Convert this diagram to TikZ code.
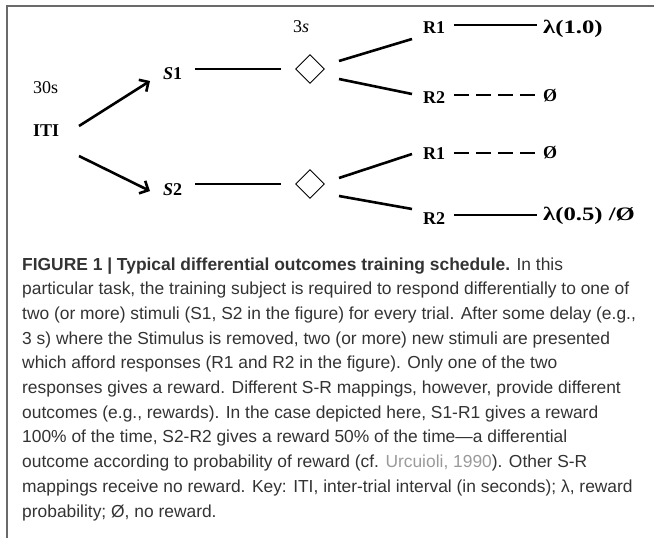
\documentclass[tikz,border=0pt]{standalone}
\usepackage{fontspec}
\setmainfont{Liberation Serif}
\setsansfont{Liberation Sans}
\newfontfamily\widelbl{Liberation Serif}[FakeStretch=1.3]
\usetikzlibrary{arrows.meta,shapes.geometric}
\definecolor{framegray}{HTML}{6A6A6A}
\definecolor{captxt}{HTML}{333333}
\definecolor{linkgray}{HTML}{9A9A9A}
\begin{document}
\begin{tikzpicture}[x=1pt,y=-1pt,
  lbl/.style={font=\fontsize{18}{20}\selectfont\bfseries, inner sep=0pt, anchor=base west},
  wlbl/.style={font=\widelbl\fontsize{19}{21}\selectfont\bfseries, inner sep=0pt, anchor=base west},
  plain/.style={font=\fontsize{18}{20}\selectfont, inner sep=0pt, anchor=base west},
  conn/.style={line width=2.6pt},
  dconn/.style={line width=2.6pt, dash pattern=on 15pt off 7pt},
  arr/.style={line width=2.6pt, -{Straight Barb[length=7pt,width=14pt]}},
  dia/.style={draw, diamond, minimum width=29pt, minimum height=29pt, inner sep=0pt, line width=0.9pt},
  capline/.style={font=\sffamily\fontsize{17.4}{20}\selectfont, text=captxt, inner sep=0pt, anchor=base west}]
\useasboundingbox (0,0) rectangle (654,538);
% frame
\coordinate (ftr) at (654,6);
\coordinate (ftl) at (7,6);
\coordinate (fbl) at (7,538);
\draw[framegray, line width=1.4pt] (ftr) -- (ftl) -- (fbl);

% labels
\node[plain] (t30) at (33,93) {30s};
\node[lbl] (iti) at (33,136) {ITI};
\node[lbl] (s1) at (163,79) {\textit{S}1};
\node[lbl] (s2) at (163,195) {\textit{S}2};
\node[plain] (t3) at (293,32) {3\textit{s}};
\node[dia] (d1) at (310,69) {};
\node[dia] (d2) at (310,184) {};
\node[lbl] (r1a) at (423,33) {R1};
\node[lbl] (r2a) at (423,103) {R2};
\node[lbl] (r1b) at (423,159) {R1};
\node[lbl] (r2b) at (423,224) {R2};
\node[wlbl] (o1) at (543,33) {λ(1.0)};
\node[lbl] (o2) at (543,101) {Ø};
\node[lbl] (o3) at (543,158) {Ø};
\node[wlbl] (o4) at (543,220) {λ(0.5) /Ø};

% connector ends
\coordinate (a1s) at (79,126); \coordinate (a1e) at (150,81);
\coordinate (a2s) at (79,156); \coordinate (a2e) at (150,191);
\coordinate (s1e) at (195,69); \coordinate (d1w) at (281,69);
\coordinate (s2e) at (195,184); \coordinate (d2w) at (281,184);
\coordinate (d1u) at (339,61); \coordinate (r1aw) at (412,39);
\coordinate (d1l) at (339,79); \coordinate (r2aw) at (412,94);
\coordinate (d2u) at (339,178); \coordinate (r1bw) at (412,154);
\coordinate (d2l) at (339,196); \coordinate (r2bw) at (412,209);
\coordinate (r1ae) at (454,25); \coordinate (o1w) at (537,25);
\coordinate (r2ae) at (454,95); \coordinate (o2w) at (535,95);
\coordinate (r1be) at (454,153); \coordinate (o3w) at (535,153);
\coordinate (r2be) at (454,215); \coordinate (o4w) at (537,215);

\draw[arr] (a1s) -- (a1e);
\draw[arr] (a2s) -- (a2e);
\draw[conn] (s1e) -- (d1w);
\draw[conn] (s2e) -- (d2w);
\draw[conn] (d1u) -- (r1aw);
\draw[conn] (d1l) -- (r2aw);
\draw[conn] (d2u) -- (r1bw);
\draw[conn] (d2l) -- (r2bw);
\draw[conn] (r1ae) -- (o1w);
\draw[dconn] (r2ae) -- (o2w);
\draw[dconn] (r1be) -- (o3w);
\draw[conn] (r2be) -- (o4w);

% caption
\node[capline] (c1) at (22,270) {\textbf{FIGURE 1 | Typical differential outcomes training schedule.} In this};
\node[capline] (c2) at (22,294.7) {particular task, the training subject is required to respond differentially to one of};
\node[capline] (c3) at (22,319.4) {two (or more) stimuli (S1, S2 in the figure) for every trial. After some delay (e.g.,};
\node[capline] (c4) at (22,344.1) {3 s) where the Stimulus is removed, two (or more) new stimuli are presented};
\node[capline] (c5) at (22,368.8) {which afford responses (R1 and R2 in the figure). Only one of the two};
\node[capline] (c6) at (22,393.5) {responses gives a reward. Different S-R mappings, however, provide different};
\node[capline] (c7) at (22,418.2) {outcomes (e.g., rewards). In the case depicted here, S1-R1 gives a reward};
\node[capline] (c8) at (22,442.9) {100\% of the time, S2-R2 gives a reward 50\% of the time—a differential};
\node[capline] (c9) at (22,467.6) {outcome according to probability of reward (cf. \textcolor{linkgray}{Urcuioli, 1990}). Other S-R};
\node[capline] (c10) at (22,492.3) {mappings receive no reward. Key: ITI, inter-trial interval (in seconds); λ, reward};
\node[capline] (c11) at (22,517) {probability; Ø, no reward.};
\end{tikzpicture}
\end{document}
